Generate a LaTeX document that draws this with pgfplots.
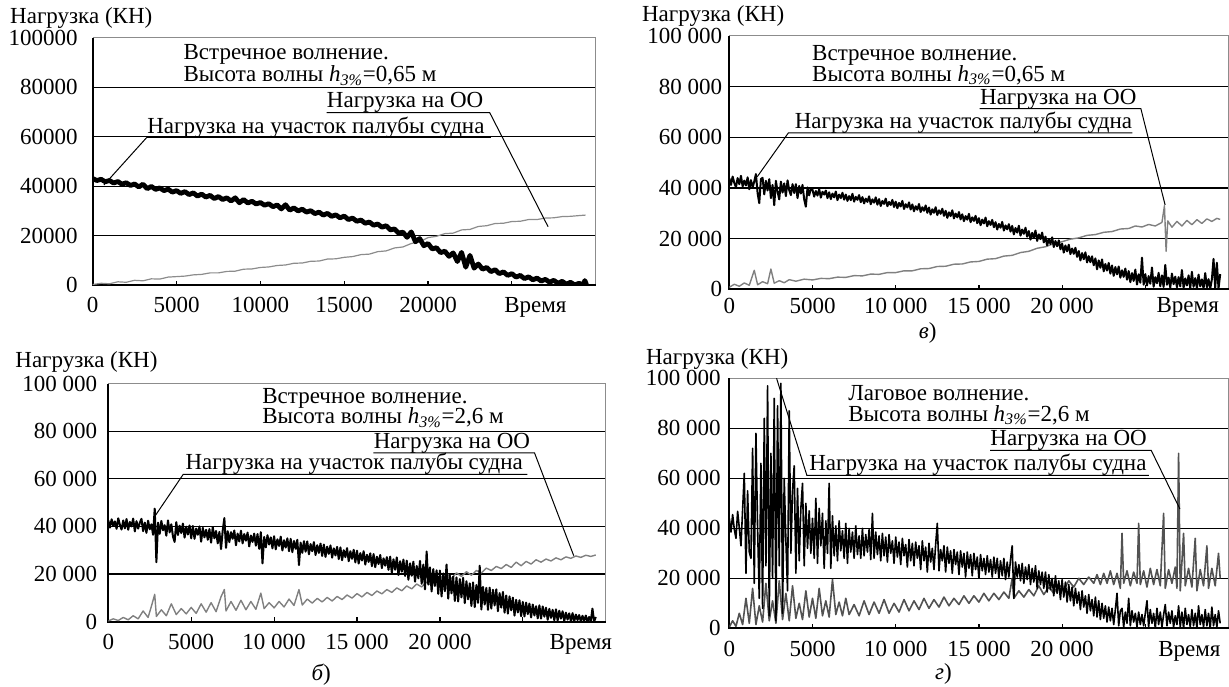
\documentclass[border=0pt]{standalone}
\usepackage{fontspec}
\setmainfont{Liberation Serif}
\usepackage{pgfplots}
\pgfplotsset{compat=1.18}
\tikzset{ann/.style={anchor=base west, inner sep=0pt, font=\fontsize{11.5}{13}\selectfont}}
\pgfplotsset{
 panel/.style={scale only axis, anchor=south west, xmin=0,xmax=30000,ymin=0,ymax=100000,
  scaled ticks=false,
  axis line style={draw=none},
  xtick={0,5000,10000,15000,20000,25000},
  ytick={0,20000,40000,60000,80000,100000},
  tick align=inside, xtick pos=left, ytick pos=left,
  major tick length=2.2pt,
  xtick style={black,line width=0.6pt},
  ytick style={draw=none},
  tick label style={font=\fontsize{11.5}{13}\selectfont, text=black},
  clip mode=individual,
  extra x tick style={major tick length=0pt},
 },
 blk/.style={black, line width=1pt, line join=round},
 oo/.style={black!50, line width=0.7pt, line join=round},
}
\newcommand\panelframe{%
 \draw[black,line width=0.6pt] (axis cs:0,20000)--(axis cs:30000,20000);
 \draw[black,line width=0.6pt] (axis cs:0,40000)--(axis cs:30000,40000);
 \draw[black,line width=0.6pt] (axis cs:0,60000)--(axis cs:30000,60000);
 \draw[black,line width=0.6pt] (axis cs:0,80000)--(axis cs:30000,80000);
 \draw[black!45,line width=0.5pt] (rel axis cs:0,1)--(rel axis cs:1,1)--(rel axis cs:1,0);
 \draw[black,line width=0.9pt] (rel axis cs:0,1)--(rel axis cs:0,0)--(rel axis cs:1,0);
}
\begin{document}
\begin{tikzpicture}
\useasboundingbox (0,0) rectangle (614.5pt,343pt);

% ---------------- panel a (top left)
\begin{axis}[panel, at={(46.35pt,200.5pt)}, width=251.5pt, height=123.5pt,
  xticklabels={0,5000,10000,15000,20000,},
  yticklabels={0,20000,40000,60000,80000,100000},
  extra x ticks={26400}, extra x tick labels={Время},
  yticklabel style={xshift=-4pt}, xticklabel style={yshift=-2.8pt}]
\panelframe
\addplot[oo, line width=0.6pt, black!45] coordinates {(0,200)(500,700)(1000,500)(1500,1300)(2000,1100)(2500,1900)(3000,1700)(3500,2500)(4000,2400)(4500,3200)(5000,3400)(5500,3600)(6000,4100)(6500,4300)(7000,4900)(7500,4900)(8000,5500)(8500,5600)(9000,6400)(9500,6500)(10000,7100)(10500,7300)(11000,7900)(11500,8100)(12000,8800)(12500,8900)(13000,9600)(13500,9700)(14000,10500)(14500,10600)(15000,11200)(15500,11500)(16000,12300)(16500,12500)(17000,13500)(17500,13800)(18000,15000)(18500,15400)(19000,16800)(19500,17500)(20000,19200)(20500,19700)(21000,20800)(21500,21000)(22000,22300)(22500,22500)(23000,23700)(23500,24000)(24000,24900)(24500,25000)(25000,25700)(25500,25800)(26000,26500)(26500,26500)(27000,27100)(27500,27200)(28000,27700)(28500,27800)(29000,28100)(29400,28300)};
\addplot[blk, line width=2.4pt] coordinates {(0,43100)(250,42300)(500,42800)(750,41800)(1000,42300)(1250,41300)(1500,41900)(1750,40800)(2000,41400)(2250,40300)(2500,40900)(2750,39700)(3000,40800)(3250,39000)(3500,39900)(3750,38700)(4000,39300)(4250,38200)(4500,38800)(4750,37600)(5000,38200)(5250,37100)(5500,37800)(5750,36600)(6000,37300)(6250,36000)(6500,36800)(6750,35600)(7000,36300)(7250,35000)(7500,35800)(7750,34600)(8000,35300)(8250,34000)(8500,35300)(8750,33300)(9000,34600)(9250,33200)(9500,33900)(9750,32800)(10000,33400)(10250,32300)(10500,32900)(10750,31700)(11000,32400)(11250,30800)(11500,32500)(11750,30300)(12000,31200)(12250,30000)(12500,30700)(12750,29500)(13000,30100)(13250,28900)(13500,29500)(13750,28300)(14000,29000)(14250,27800)(14500,28400)(14750,27200)(15000,27900)(15250,26500)(15500,27100)(15750,25800)(16000,26300)(16250,25000)(16500,25500)(16750,24200)(17000,24700)(17250,23400)(17500,24000)(17750,22300)(18000,22700)(18250,21000)(18500,21400)(18750,19300)(19000,21500)(19250,17500)(19500,18800)(19750,15900)(20000,16800)(20250,14600)(20500,15100)(20750,13100)(21000,13700)(21250,11600)(21500,13000)(21750,9500)(22000,13200)(22250,7200)(22500,12000)(22750,6800)(23000,8500)(23250,6400)(23500,7100)(23750,5400)(24000,6200)(24250,4600)(24500,5300)(24750,3900)(25000,4600)(25250,3200)(25500,3900)(25750,2600)(26000,3300)(26250,2100)(26500,2800)(26750,1600)(27000,2300)(27250,1100)(27500,1900)(27750,700)(28000,1500)(28250,300)(28500,1100)(28750,0)(29000,700)(29250,0)(29350,1800)(29450,200)};
\node[ann] at (axis cs:5400,91100) {Встречное волнение.};
\node[ann] at (axis cs:5400,82300) {Высота волны \textit{h}\textsubscript{\textit{3\%}}=0,65 м};
\node[ann] (a1) at (axis cs:13950,71660) {Нагрузка на ОО};
\draw[line width=0.5pt] ([yshift=-2.3pt]a1.base west) -- ([yshift=-2.3pt,xshift=3pt]a1.base east) -- (axis cs:27160,23600);
\node[ann] (a2) at (axis cs:3230,61400) {Нагрузка на участок палубы судна};
\draw[line width=0.5pt] (axis cs:670,40500) -- ([yshift=-2pt]a2.base west) -- ([yshift=-2pt,xshift=3pt]a2.base east);
\end{axis}

% ---------------- panel v (top right)
\begin{axis}[panel, at={(364.65pt,198.35pt)}, width=249.6pt, height=126.65pt,
  xticklabels={0,5000,10 000,15 000,20 000,},
  yticklabels={0,20 000,40 000,60 000,80 000,100 000},
  extra x ticks={27550}, extra x tick labels={Время},
  yticklabel style={xshift=0pt}, xticklabel style={yshift=-0.7pt}]
\panelframe
\addplot[oo] coordinates {(0,800)(300,2000)(600,1200)(900,2500)(1200,1600)(1500,7500)(1700,1800)(2000,3000)(2300,2200)(2500,8000)(2700,2400)(3000,3400)(3300,2600)(3600,3800)(4000,3200)(4500,4000)(5000,3700)(5500,4300)(6000,4200)(6500,4800)(7000,4700)(7500,5400)(8000,5300)(8500,6000)(9000,5900)(9500,6600)(10000,6600)(10500,7300)(11000,7300)(11500,8100)(12000,8200)(12500,9000)(13000,9100)(13500,9900)(14000,10000)(14500,10800)(15000,11000)(15500,11900)(16000,12100)(16500,13100)(17000,13400)(17500,14500)(18000,15000)(18500,16200)(19000,16800)(19500,18000)(20000,18800)(20500,19800)(21000,20300)(21500,21300)(22000,21600)(22500,22500)(23000,22800)(23500,23800)(24000,24000)(24400,25000)(24800,24600)(25200,25600)(25600,25000)(26000,26400)(26150,33000)(26250,15000)(26350,27000)(26600,24500)(26900,26800)(27200,25000)(27500,27200)(27800,25500)(28100,27500)(28400,26000)(28700,27800)(29000,26800)(29300,28000)(29500,27600)};
\addplot[blk] coordinates {(0,43800)(100,41200)(200,44500)(300,42000)(400,40300)(500,43900)(600,41500)(700,44800)(800,40600)(900,42900)
(1000,41000)(1100,44200)(1200,39500)(1300,43100)(1400,40200)(1500,42600)(1600,45500)(1700,38000)(1800,34000)(1900,43500)
(2000,44000)(2100,37500)(2200,42800)(2300,39000)(2400,43500)(2500,36000)(2600,41200)(2700,33200)(2800,42800)(2900,38500)
(3000,35500)(3100,42500)(3200,38200)(3300,41800)(3400,36800)(3500,43000)(3600,39100)(3700,37200)(3800,41500)(3900,38000)
(4000,41500)(4100,36000)(4200,40800)(4300,37800)(4400,41200)(4500,35500)(4600,32600)(4700,40200)(4800,37100)(4900,39800)
(5000,39300)(5100,36600)(5200,38800)(5300,37000)(5400,39600)(5500,36200)(5600,38500)(5700,37400)(5800,39000)(5900,36000)
(6000,38300)(6100,35600)(6200,37800)(6300,36300)(6400,38600)(6500,35200)(6600,37400)(6700,36000)(6800,38100)(6900,35400)
(7000,37400)(7100,34900)(7200,36800)(7300,35200)(7400,37700)(7500,34600)(7600,36500)(7700,35300)(7800,37200)(7900,34400)
(8000,36400)(8100,33900)(8200,35800)(8300,34500)(8400,36700)(8500,33600)(8600,35500)(8700,34200)(8800,36300)(8900,33400)
(9000,35600)(9100,32900)(9200,34900)(9300,33700)(9400,35800)(9500,32800)(9600,34500)(9700,33300)(9800,35300)(9900,32500)
(10000,34600)(10100,32000)(10200,34100)(10300,32700)(10400,34900)(10500,31700)(10600,33600)(10700,32300)(10800,34300)(10900,31500)
(11000,33500)(11100,30800)(11200,32800)(11300,31400)(11400,33700)(11500,30500)(11600,32400)(11700,31000)(11800,33100)(11900,30200)
(12000,32300)(12100,29500)(12200,31600)(12300,30200)(12400,32400)(12500,29300)(12600,31200)(12700,29800)(12800,31800)(12900,29000)
(13000,31000)(13100,28200)(13200,30400)(13300,28900)(13400,31200)(13500,28000)(13600,29900)(13700,28400)(13800,30500)(13900,27600)
(14000,29600)(14100,26900)(14200,28900)(14300,27500)(14400,29800)(14500,26500)(14600,28400)(14700,27000)(14800,29000)(14900,26100)
(15000,28100)(15100,25300)(15200,27500)(15300,26000)(15400,28300)(15500,24900)(15600,26900)(15700,25400)(15800,27400)(15900,24500)
(16000,26500)(16100,23600)(16200,25800)(16300,24300)(16400,26600)(16500,23200)(16600,25200)(16700,23700)(16800,25700)(16900,22800)
(17000,25000)(17100,21700)(17200,24200)(17300,22400)(17400,25100)(17500,21200)(17600,23600)(17700,21900)(17800,24300)(17900,20800)
(18000,23000)(18100,19600)(18200,22300)(18300,20300)(18400,23200)(18500,19100)(18600,21700)(18700,19800)(18800,22400)(18900,18500)
(19000,20800)(19100,17300)(19200,19800)(19300,17900)(19400,20500)(19500,16700)(19600,19100)(19700,17000)(19800,19300)(19900,15800)
(20000,18000)(20100,14500)(20200,17300)(20300,15000)(20400,17600)(20500,13900)(20600,16100)(20700,14000)(20800,16400)(20900,12800)
(21000,15100)(21100,11400)(21200,14300)(21300,11900)(21400,14600)(21500,10600)(21600,13100)(21700,10700)(21800,13000)(21900,9500)
(22000,12200)(22100,7900)(22200,11400)(22300,8500)(22400,11800)(22500,7100)(22600,10000)(22700,7400)(22800,10400)(22900,6200)
(23000,9400)(23100,5300)(23200,8800)(23300,5900)(23400,9000)(23500,4600)(23600,7500)(23700,4900)(23800,8200)(23900,3800)
(24000,7200)(24100,2800)(24200,6400)(24300,3300)(24400,7800)(24500,1900)(24600,5900)(24700,2600)(24800,12500)(24900,1800)
(25000,6000)(25100,1500)(25200,5200)(25300,2200)(25400,8600)(25500,1000)(25600,4800)(25700,2400)(25800,6500)(25900,1200)
(26000,5500)(26100,900)(26200,9600)(26300,1800)(26400,4600)(26500,700)(26600,6200)(26700,2000)(26800,5000)(26900,800)
(27000,4800)(27100,1200)(27200,7600)(27300,600)(27400,4300)(27500,1500)(27600,5500)(27700,500)(27800,6900)(27900,1000)
(28000,4400)(28100,400)(28200,5800)(28300,1200)(28400,3900)(28500,300)(28600,6400)(28700,800)(28800,4000)(28900,200)
(29000,3900)(29100,12000)(29200,500)(29300,10500)(29400,300)(29500,6000)};
\node[ann] at (axis cs:4960,90500) {Встречное волнение.};
\node[ann] at (axis cs:4960,82200) {Высота волны \textit{h}\textsubscript{\textit{3\%}}=0,65 м};
\node[ann] (v1) at (axis cs:15050,73150) {Нагрузка на ОО};
\draw[line width=0.5pt] ([yshift=-2.3pt]v1.base west) -- ([yshift=-2.3pt,xshift=2pt]v1.base east) -- (axis cs:26190,33300);
\node[ann] (v2) at (axis cs:3910,63560) {Нагрузка на участок палубы судна};
\draw[line width=0.5pt] (axis cs:1680,44450) -- ([yshift=-2.3pt,xshift=-3pt]v2.base west) -- ([yshift=-2.3pt]v2.base east);
\end{axis}

% ---------------- panel b (bottom left)
\begin{axis}[panel, at={(54.15pt,32.15pt)}, width=248.7pt, height=119.1pt,
  xticklabels={0,5000,10 000,15 000,20 000,},
  yticklabels={0,20 000,40 000,60 000,80 000,100 000},
  extra x ticks={28500}, extra x tick labels={Время},
  yticklabel style={xshift=-2pt}, xticklabel style={yshift=-2.9pt}]
\panelframe
\addplot[oo] coordinates {(0,300)(300,1200)(600,500)(900,1800)(1200,800)(1500,2500)(1800,1200)(2100,4500)(2400,1800)(2600,6500)(2800,11500)(2900,2200)(3200,5000)(3500,2500)(3800,7500)(4100,3000)(4400,5500)(4700,3300)(5000,6000)(5300,3500)(5600,7500)(5900,4000)(6200,8000)(6500,4200)(6800,10500)(7000,13500)(7100,4500)(7400,8500)(7700,4800)(8000,9000)(8300,5000)(8600,8500)(8900,5200)(9200,12000)(9400,5500)(9700,8000)(10000,5800)(10300,8500)(10600,6200)(10900,9500)(11200,6800)(11500,13500)(11700,7000)(12000,9500)(12300,7800)(12600,9800)(12900,8300)(13200,10200)(13500,8700)(13800,10600)(14100,9300)(14400,11200)(14700,9900)(15000,11800)(15300,10400)(15600,12300)(15900,11000)(16200,12900)(16500,11700)(16800,13500)(17100,12300)(17400,14200)(17700,13000)(18000,15000)(18300,13800)(18600,15800)(18900,14600)(19200,16600)(19500,15300)(19800,17600)(20100,16000)(20400,20500)(20700,18000)(21000,20500)(21300,19000)(21600,21000)(21900,19500)(22200,21500)(22500,20500)(22800,22500)(23100,21500)(23400,23200)(23700,22300)(24000,24000)(24300,22800)(24600,25000)(24900,23500)(25200,25300)(25500,24200)(25800,26000)(26100,25000)(26400,26300)(26700,25500)(27000,26800)(27300,26000)(27600,27200)(27900,26600)(28200,27600)(28500,27000)(28800,27900)(29100,27400)(29400,28000)};
\addplot[blk] coordinates {(0,42600)(100,39500)(200,43000)(300,40200)(400,42100)(500,39000)(600,43400)(700,40600)(800,38700)(900,42500)
(1000,39200)(1100,43100)(1200,38600)(1300,41900)(1400,40000)(1500,43300)(1600,37900)(1700,42200)(1800,39100)(1900,41500)
(2000,43200)(2100,38000)(2200,41600)(2300,37300)(2400,42400)(2500,38800)(2600,40900)(2700,36500)(2800,47500)(2900,25000)
(3000,41600)(3100,36900)(3200,42300)(3300,38400)(3400,40500)(3500,36100)(3600,42500)(3700,37500)(3800,40900)(3900,35800)
(4000,33500)(4100,41800)(4200,36400)(4300,40300)(4400,37200)(4500,41200)(4600,35300)(4700,39900)(4800,36600)(4900,40400)
(5000,35000)(5100,40200)(5200,34800)(5300,39100)(5400,36500)(5500,40000)(5600,33600)(5700,39400)(5800,35400)(5900,38600)
(6000,34400)(6100,38900)(6200,33200)(6300,39700)(6400,35000)(6500,38100)(6600,32900)(6700,37700)(6800,30500)(6900,38200)
(7000,43500)(7100,31000)(7200,38000)(7300,33400)(7400,37600)(7500,34800)(7600,38300)(7700,32100)(7800,37000)(7900,33700)
(8000,38200)(8100,32900)(8200,36800)(8300,34000)(8400,37400)(8500,31600)(8600,36200)(8700,33500)(8800,37000)(8900,31900)
(9000,36800)(9100,30600)(9200,37600)(9300,24500)(9400,35600)(9500,31200)(9600,36300)(9700,32400)(9800,35400)(9900,30800)
(10000,35900)(10100,30400)(10200,34600)(10300,31800)(10400,35700)(10500,29900)(10600,34200)(10700,31100)(10800,35000)(10900,29600)
(11000,34800)(11100,29200)(11200,33900)(11300,30600)(11400,34400)(11500,23800)(11600,33200)(11700,28900)(11800,33800)(11900,29400)
(12000,33700)(12100,28300)(12200,32600)(12300,29600)(12400,33400)(12500,28000)(12600,32100)(12700,28900)(12800,32800)(12900,27600)
(13000,32400)(13100,27200)(13200,31500)(13300,28500)(13400,32000)(13500,26900)(13600,30800)(13700,27800)(13800,31400)(13900,26300)
(14000,31200)(14100,25800)(14200,30000)(14300,27100)(14400,30900)(14500,25400)(14600,29600)(14700,26400)(14800,30200)(14900,24900)
(15000,29800)(15100,24400)(15200,28800)(15300,25700)(15400,29600)(15500,24000)(15600,28100)(15700,25100)(15800,28700)(15900,23300)
(16000,28400)(16100,22900)(16200,27300)(16300,24200)(16400,28000)(16500,22500)(16600,26600)(16700,23500)(16800,27100)(16900,21800)
(17000,27300)(17100,20500)(17200,26200)(17300,21800)(17400,27000)(17500,19600)(17600,25400)(17700,21000)(17800,26100)(17900,19200)
(18000,25600)(18100,17600)(18200,24500)(18300,19300)(18400,25200)(18500,16800)(18600,23400)(18700,18200)(18800,25500)(18900,15900)
(19000,24000)(19100,13600)(19200,29500)(19300,15600)(19400,22800)(19500,12700)(19600,22100)(19700,15000)(19800,21600)(19900,11700)
(20000,21500)(20100,10600)(20200,20300)(20300,12800)(20400,24000)(20500,9700)(20600,19400)(20700,11900)(20800,19000)(20900,8700)
(21000,18600)(21100,8500)(21200,17900)(21300,10200)(21400,18400)(21500,7800)(21600,17000)(21700,9400)(21800,16100)(21900,6600)
(22000,16500)(22100,6100)(22200,15400)(22300,7900)(22400,23500)(22500,5100)(22600,14600)(22700,7200)(22800,14200)(22900,5000)
(23000,14300)(23100,5500)(23200,13400)(23300,6800)(23400,13600)(23500,4400)(23600,12000)(23700,5900)(23800,12500)(23900,3800)
(24000,11000)(24100,3400)(24200,10600)(24300,4800)(24400,10100)(24500,2600)(24600,9200)(24700,3900)(24800,9000)(24900,2300)
(25000,8300)(25100,2200)(25200,8000)(25300,3200)(25400,7600)(25500,1800)(25600,7200)(25700,2600)(25800,6500)(25900,1400)
(26000,6900)(26100,1300)(26200,6400)(26300,2100)(26400,5900)(26500,800)(26600,5400)(26700,1600)(26800,5000)(26900,600)
(27000,5200)(27100,500)(27200,4600)(27300,1300)(27400,4400)(27500,300)(27600,3800)(27700,900)(27800,3500)(27900,200)
(28000,3600)(28100,100)(28200,3000)(28300,700)(28400,2800)(28500,0)(28600,2500)(28700,400)(28800,2600)(28900,0)
(29000,2000)(29100,0)(29200,5500)(29300,0)(29400,2000)};
\node[ann] at (axis cs:9270,91560) {Встречное волнение.};
\node[ann] at (axis cs:9270,83100) {Высота волны \textit{h}\textsubscript{\textit{3\%}}=2,6 м};
\node[ann] (b1) at (axis cs:15990,72800) {Нагрузка на ОО};
\draw[line width=0.5pt] ([yshift=-2.3pt]b1.base west) -- ([yshift=-2.3pt,xshift=2pt]b1.base east) -- (axis cs:28070,27740);
\node[ann] (b2) at (axis cs:4640,63800) {Нагрузка на участок палубы судна};
\draw[line width=0.5pt] (axis cs:2820,44380) -- ([yshift=-2.3pt,xshift=-1pt]b2.base west) -- ([yshift=-2.3pt,xshift=2pt]b2.base east);
\end{axis}

% ---------------- panel g (bottom right)
\begin{axis}[panel, at={(364.65pt,28.85pt)}, width=249.6pt, height=125pt,
  xticklabels={0,5000,10 000,15 000,20 000,},
  yticklabels={0,20 000,40 000,60 000,80 000,100 000},
  extra x ticks={27650}, extra x tick labels={Время},
  yticklabel style={xshift=-0.8pt}, xticklabel style={yshift=-2.9pt}]
\panelframe
\addplot[oo, black!68, line width=0.8pt] coordinates {(0,500)(200,3000)(400,800)(600,6000)(800,1500)(1000,12000)(1200,2000)(1400,16000)(1600,1500)(1800,9000)(2000,2500)(2200,18000)(2400,3000)(2600,11000)(2800,2000)(3000,19000)(3200,3500)(3400,14000)(3600,3000)(3800,17000)(4000,4000)(4200,10000)(4400,3500)(4600,15000)(4800,4500)(5000,12000)(5200,4000)(5400,16000)(5600,5000)(5800,11000)(6000,4500)(6200,19500)(6400,5500)(6600,10500)(6800,5000)(7000,12000)(7200,5500)(7500,9500)(7800,5000)(8100,11000)(8400,5500)(8700,10500)(9000,6000)(9300,11500)(9600,6000)(9900,10000)(10200,6500)(10500,11500)(10800,7000)(11100,11000)(11400,7500)(11700,12000)(12000,8000)(12300,11500)(12600,8500)(12900,12500)(13200,9000)(13500,12000)(13800,9500)(14100,13000)(14400,10000)(14700,13000)(15000,10500)(15300,14000)(15600,11000)(15900,14000)(16200,11500)(16500,14500)(16800,12000)(17000,20000)(17100,12000)(17400,15000)(17700,12500)(18000,15500)(18300,13000)(18600,17000)(18900,13500)(19200,16500)(19500,14000)(19800,17500)(20100,15500)(20400,19000)(20700,16500)(21000,20000)(21300,17500)(21600,20500)(21900,18000)(22100,21500)(22300,17500)(22500,22000)(22700,18000)(22900,23000)(23100,17500)(23300,22000)(23500,16000)(23600,38000)(23700,18000)(23900,23000)(24100,17000)(24300,22500)(24500,18000)(24600,42000)(24700,17500)(24900,23000)(25100,16500)(25300,24000)(25500,17500)(25700,23500)(25900,17000)(26100,46000)(26200,16000)(26400,23500)(26600,18000)(26800,24500)(26900,16000)(27000,70000)(27100,15000)(27300,38000)(27400,17000)(27600,24000)(27800,16500)(28000,36000)(28100,15000)(28300,23500)(28500,17000)(28700,33000)(28800,16000)(29000,24000)(29200,17000)(29400,30000)(29500,20000)};
\addplot[blk, line width=0.8pt] coordinates {(0,44000)(100,38500)(200,45500)(300,39600)(400,36000)(500,46800)(600,40200)(700,33000)(800,47500)(900,62000)
(1000,22000)(1100,55000)(1200,30500)(1300,28000)(1400,72000)(1500,18000)(1600,78000)(1700,40000)(1800,12000)(1900,66000)
(2000,8000)(2100,84000)(2200,25000)(2300,97000)(2400,5000)(2500,70000)(2600,20000)(2700,92000)(2800,3000)(2900,89000)
(3000,25000)(3100,98000)(3200,6000)(3300,60000)(3400,35000)(3500,15000)(3600,87000)(3700,30000)(3800,55000)(3900,65000)
(4000,22000)(4100,56000)(4200,27000)(4300,48000)(4400,58000)(4500,25000)(4600,50000)(4700,32000)(4800,47000)(4900,30000)
(5000,44000)(5100,28000)(5200,52000)(5300,26000)(5400,48000)(5500,33000)(5600,46000)(5700,24000)(5800,43000)(5900,30000)
(6000,58000)(6100,24000)(6200,45000)(6300,29000)(6400,41000)(6500,27000)(6600,43000)(6700,31000)(6800,39000)(6900,28000)
(7000,42000)(7100,26000)(7200,40000)(7300,30500)(7400,38500)(7500,28000)(7600,41000)(7700,29500)(7800,37000)(7900,28000)
(8000,40000)(8100,29000)(8200,37500)(8300,30500)(8400,39500)(8500,27500)(8600,46000)(8700,28000)(8800,38500)(8900,29500)
(9000,37000)(9100,27000)(9200,38000)(9300,29000)(9400,36500)(9500,26500)(9600,37500)(9700,30000)(9800,35000)(9900,26000)
(10000,36500)(10100,28500)(10200,34500)(10300,25500)(10400,36000)(10500,29000)(10600,33500)(10700,24500)(10800,35500)(10900,27000)
(11000,34000)(11100,25000)(11200,34500)(11300,28000)(11400,33000)(11500,23500)(11600,35000)(11700,27000)(11800,32500)(11900,22500)
(12000,34000)(12100,26500)(12200,32000)(12300,23500)(12400,33500)(12500,42000)(12600,23000)(12700,31500)(12800,27000)(12900,33000)
(13000,22500)(13100,32500)(13200,26000)(13300,31000)(13400,22000)(13500,31500)(13600,25500)(13700,30500)(13800,21500)(13900,31000)
(14000,24500)(14100,30000)(14200,20500)(14300,30500)(14400,24000)(14500,29500)(14600,21000)(14700,30000)(14800,23500)(14900,28500)
(15000,20000)(15100,29500)(15200,23000)(15300,28000)(15400,21500)(15500,29000)(15600,22500)(15700,27500)(15800,20500)(15900,28500)
(16000,22000)(16100,28000)(16200,20000)(16300,27000)(16400,21000)(16500,28000)(16600,19500)(16700,26500)(16800,20500)(16900,27500)
(17000,33000)(17100,12000)(17200,26500)(17300,20500)(17400,25500)(17500,19000)(17600,26000)(17700,18000)(17800,24500)(17900,19500)
(18000,25500)(18100,17500)(18200,24000)(18300,18500)(18400,25000)(18500,16000)(18600,23000)(18700,17500)(18800,22500)(18900,16000)
(19000,22500)(19100,14500)(19200,21500)(19300,15500)(19400,20000)(19500,13000)(19600,21000)(19700,14000)(19800,19000)(19900,11500)
(20000,19500)(20100,12500)(20200,18500)(20300,10500)(20400,17500)(20500,11000)(20600,16500)(20700,9000)(20800,16000)(20900,10000)
(21000,14500)(21100,7500)(21200,15000)(21300,8500)(21400,13000)(21500,6000)(21600,13500)(21700,7000)(21800,11500)(21900,5000)
(22000,12500)(22100,4500)(22200,11000)(22300,3500)(22400,10000)(22500,4000)(22600,9000)(22700,2500)(22800,8500)(22900,3000)
(23000,8000)(23100,1500)(23200,7500)(23300,14000)(23400,1000)(23500,7000)(23600,8000)(23700,500)(23800,6500)(23900,2000)
(24000,12000)(24100,1000)(24200,7000)(24300,2500)(24400,6000)(24500,500)(24600,6500)(24700,1500)(24800,5500)(24900,1000)
(25000,6000)(25100,11000)(25200,500)(25300,7500)(25400,2000)(25500,6000)(25600,0)(25700,8000)(25800,1500)(25900,6500)
(26000,500)(26100,5500)(26200,9500)(26300,1000)(26400,6500)(26500,2000)(26600,7000)(26700,500)(26800,5000)(26900,1500)
(27000,9000)(27100,500)(27200,6500)(27300,0)(27400,8000)(27500,1500)(27600,5500)(27700,500)(27800,7500)(27900,1000)
(28000,6000)(28100,0)(28200,9000)(28300,1500)(28400,5500)(28500,500)(28600,7500)(28700,1000)(28800,6000)(28900,0)
(29000,8500)(29100,1000)(29200,5500)(29300,500)(29400,7000)(29500,2000)};
\node[ann] at (axis cs:7130,91040) {Лаговое волнение.};
\node[ann] at (axis cs:7130,82800) {Высота волны \textit{h}\textsubscript{\textit{3\%}}=2,6 м};
\node[ann] (g1) at (axis cs:15670,73040) {Нагрузка на ОО};
\draw[line width=0.5pt] ([yshift=-2.3pt]g1.base west) -- ([yshift=-2.3pt,xshift=2pt]g1.base east) -- (axis cs:27080,47720);
\node[ann] (g2) at (axis cs:4780,63040) {Нагрузка на участок палубы судна};
\draw[line width=0.5pt] (axis cs:2840,100000) -- ([yshift=-2.3pt,xshift=-1pt]g2.base west) -- ([yshift=-2.3pt,xshift=1pt]g2.base east);
\end{axis}

% labels
\begin{scope}[every node/.style={inner sep=0pt, font=\fontsize{11.5}{13}\selectfont}]
\node[anchor=base west] at (4.9pt,331pt) {Нагрузка (КН)};
\node[anchor=base west] at (320.85pt,332pt) {Нагрузка (КН)};
\node[anchor=base west] at (7.5pt,159.5pt) {Нагрузка (КН)};
\node[anchor=base west] at (322.85pt,161pt) {Нагрузка (КН)};
\node[anchor=base] at (463.85pt,174pt) {{\itshape в})};
\node[anchor=base] at (160.6pt,3pt) {{\itshape б})};
\node[anchor=base] at (471.7pt,3.5pt) {{\itshape г})};
\end{scope}
\end{tikzpicture}
\end{document}
